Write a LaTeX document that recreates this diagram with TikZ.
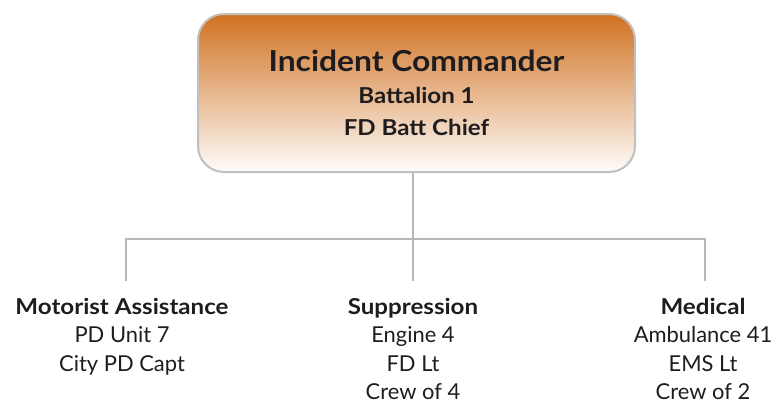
\documentclass[tikz,border=0pt]{standalone}
\usepackage{fontspec}
\setmainfont{Lato}[BoldFeatures={FakeStretch=1.1}]
\definecolor{boxtop}{RGB}{208,114,34}
\definecolor{boxbot}{RGB}{254,252,250}
\definecolor{boxline}{RGB}{192,192,192}
\definecolor{wire}{RGB}{184,184,184}
\definecolor{ink}{RGB}{30,28,30}
\begin{document}
\begin{tikzpicture}[x=1bp,y=-1bp,
  cmdbox/.style={draw=boxline,line width=2bp,rounded corners=26bp,
    top color=boxtop,bottom color=boxbot,minimum width=437bp,minimum height=158bp,
    align=center,text=ink,inner sep=0pt,font=\fontsize{22}{32}\selectfont\bfseries},
  unit/.style={anchor=north,align=center,text=ink,inner xsep=0pt,inner ysep=17bp,
    font=\fontsize{22}{28.5}\selectfont},
  conn/.style={draw=wire,line width=2bp}]
\useasboundingbox (0,0) rectangle (781,407);
\node[cmdbox] (ic) at (416.5,93)
  {{\fontsize{29}{34}\selectfont Incident Commander}\\[0bp]
   Battalion 1\\
   FD Batt Chief};
\coordinate (bus) at (413,239);
\node[unit] (mot) at (122,281) {{\fontsize{22}{28.5}\selectfont\bfseries Motorist Assistance}\\PD Unit 7\\City PD Capt};
\node[unit] (sup) at (413,281) {{\fontsize{22}{28.5}\selectfont\bfseries Suppression}\\Engine 4\\FD Lt\\Crew of 4};
\node[unit] (med) at (703,281) {{\fontsize{22}{28.5}\selectfont\bfseries Medical}\\Ambulance 41\\EMS Lt\\Crew of 2};
\draw[conn] (ic.south -| bus) -- (sup.north);
\draw[conn] ([xshift=4bp]mot.north) |- (bus) -| ([xshift=2bp]med.north);
\end{tikzpicture}
\end{document}
